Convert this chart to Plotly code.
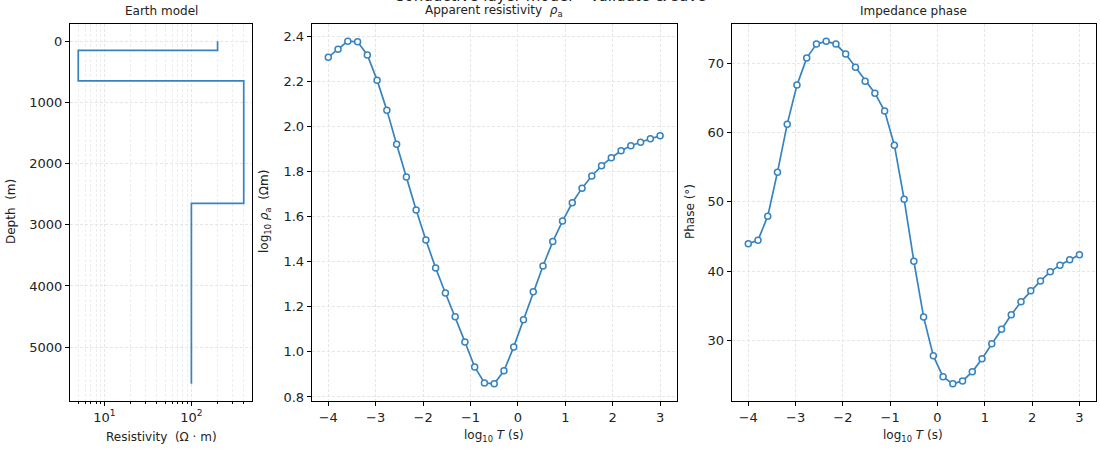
import plotly.graph_objects as go

# ---------------- data ----------------
layer_res = [200, 5, 400, 100]          # Ohm m
layer_top = [0, 150, 650, 2650]         # m
model_bottom = 5600                     # m

log_period = [-4.0 + i * 7.0 / 34 for i in range(35)]
log_rho = [2.307, 2.342, 2.378, 2.375, 2.317, 2.205, 2.072, 1.921, 1.775, 1.629,
           1.496, 1.372, 1.261, 1.156, 1.044, 0.933, 0.862, 0.858, 0.916, 1.022,
           1.142, 1.266, 1.381, 1.489, 1.580, 1.661, 1.726, 1.780, 1.825, 1.861,
           1.892, 1.914, 1.930, 1.945, 1.958]
phase = [43.94, 44.47, 47.93, 54.28, 61.2, 66.83, 70.72, 72.74, 73.17, 72.74,
         71.3, 69.42, 67.4, 65.67, 63.08, 58.17, 50.38, 41.44, 33.41, 27.79,
         24.76, 23.75, 24.18, 25.48, 27.36, 29.52, 31.63, 33.7, 35.58, 37.16,
         38.6, 39.9, 40.87, 41.63, 42.36]

res_ticks = [10, 100]
res_ticktext = ["10<sup>1</sup>", "10<sup>2</sup>"]
res_minor_ticks = [4, 5, 6, 7, 8, 9, 20, 30, 40, 50, 60, 70, 80, 90, 200, 300, 400]
depth_ticks = [0, 1000, 2000, 3000, 4000, 5000]
period_ticks = [-4, -3, -2, -1, 0, 1, 2, 3]
rho_ticks = [0.8, 1.0, 1.2, 1.4, 1.6, 1.8, 2.0, 2.2, 2.4]
phase_ticks = [30, 40, 50, 60, 70]

# ---------------- style ----------------
W, H = 1100, 450
BLUE = "#3783bf"
FONT = "DejaVu Sans"
GRID = "#e6e6e6"
DASH = "3px,2px"

fig = go.Figure()

fig.add_trace(go.Scatter(
    x=layer_res + [layer_res[-1]], y=layer_top + [model_bottom],
    mode="lines", line=dict(color=BLUE, width=1.7, shape="vh"),
    xaxis="x", yaxis="y", showlegend=False))

marker = dict(symbol="circle", size=6, color="white",
              line=dict(color=BLUE, width=1.5))
fig.add_trace(go.Scatter(
    x=log_period, y=log_rho, mode="lines+markers",
    line=dict(color=BLUE, width=1.7), marker=marker,
    xaxis="x2", yaxis="y2", showlegend=False))
fig.add_trace(go.Scatter(
    x=log_period, y=phase, mode="lines+markers",
    line=dict(color=BLUE, width=1.7), marker=marker,
    xaxis="x3", yaxis="y3", showlegend=False))

def px(x):
    return x / W

def py(y):
    return 1 - y / H

ytop, ybot = 24, 401
doms = [(70, 252), (311.7, 676.7), (731.7, 1096)]

common = dict(showline=True, linecolor="black", linewidth=1, mirror=True,
              ticks="outside", ticklen=4, tickcolor="black", tickwidth=1,
              showgrid=True, gridcolor=GRID, gridwidth=0.7, griddash=DASH,
              zeroline=False, automargin=False,
              tickfont=dict(family=FONT, size=13, color="#222"))

layout_axes = {}
layout_axes["xaxis"] = dict(common, domain=[px(doms[0][0]), px(doms[0][1])],
                            anchor="y", type="log",
                            range=[0.604, 2.697],
                            tickvals=res_ticks, ticktext=res_ticktext,
                            minor=dict(tickvals=res_minor_ticks, ticks="outside",
                                       ticklen=2, tickcolor="black", tickwidth=0.8,
                                       showgrid=True, gridcolor="#eeeeee",
                                       griddash=DASH, gridwidth=0.6))
layout_axes["yaxis"] = dict(common, domain=[py(ybot), py(ytop)], anchor="x",
                            range=[5880, -280], tickvals=depth_ticks)
layout_axes["xaxis2"] = dict(common, domain=[px(doms[1][0]), px(doms[1][1])],
                             anchor="y2", range=[-4.35, 3.35], tickvals=period_ticks)
layout_axes["yaxis2"] = dict(common, domain=[py(ybot), py(ytop)], anchor="x2",
                             range=[0.782, 2.454], tickvals=rho_ticks,
                             tickformat=".1f")
layout_axes["xaxis3"] = dict(common, domain=[px(doms[2][0]), px(doms[2][1])],
                             anchor="y3", range=[-4.35, 3.35], tickvals=period_ticks)
layout_axes["yaxis3"] = dict(common, domain=[py(ybot), py(ytop)], anchor="x3",
                             range=[21.28, 75.64], tickvals=phase_ticks)

def ann(text, x, y, size=12.5, angle=0):
    return dict(text=text, x=px(x), y=py(y), xref="paper", yref="paper",
                xanchor="center", yanchor="middle", showarrow=False,
                textangle=angle, font=dict(family=FONT, size=size, color="#222"))

annotations = [
    ann("Conductive layer model – Validate &amp; save", 550, -4, size=15),
    ann("Earth model", 161, 11, size=12),
    ann("Apparent resistivity  <i>ρ</i><sub>a</sub>", 494, 11, size=12),
    ann("Impedance phase", 913, 11, size=12),
    ann("Resistivity  (Ω · m)", 161, 437, size=12),
    ann("log<sub>10</sub> <i>T</i> (s)", 494, 436, size=12),
    ann("log<sub>10</sub> <i>T</i> (s)", 913, 436, size=12),
    ann("Depth  (m)", 11, 212, size=12, angle=-90),
    ann("log<sub>10</sub> <i>ρ</i><sub>a</sub>  (Ωm)", 265, 212, size=12, angle=-90),
    ann("Phase (°)", 690, 212, size=12, angle=-90),
]

fig.update_layout(
    width=W, height=H,
    margin=dict(l=0, r=0, t=0, b=0),
    paper_bgcolor="white", plot_bgcolor="white",
    font=dict(family=FONT, color="#222"),
    annotations=annotations,
    **layout_axes,
)

fig.write_html("out.html")
